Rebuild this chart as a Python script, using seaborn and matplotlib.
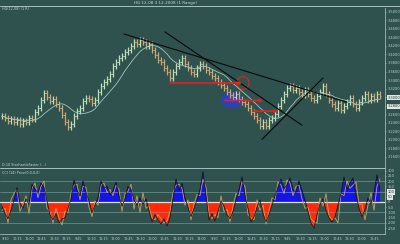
import numpy as np
import pandas as pd
import matplotlib
matplotlib.use("Agg")
import matplotlib.pyplot as plt
from matplotlib.patches import Ellipse
import seaborn as sns

# ---------------- data ----------------
closes = [3.255, 3.251, 3.244, 3.248, 3.241, 3.246, 3.237, 3.244, 3.241, 3.251,
          3.248, 3.265, 3.274, 3.293, 3.309, 3.300, 3.291, 3.295, 3.284, 3.274,
          3.258, 3.241, 3.230, 3.237, 3.255, 3.267, 3.274, 3.291, 3.298, 3.295,
          3.286, 3.293, 3.312, 3.326, 3.335, 3.342, 3.354, 3.373, 3.382, 3.392,
          3.396, 3.406, 3.411, 3.420, 3.429, 3.425, 3.434, 3.429, 3.420, 3.425,
          3.411, 3.399, 3.387, 3.382, 3.368, 3.359, 3.345, 3.359, 3.373, 3.382,
          3.392, 3.378, 3.368, 3.359, 3.354, 3.368, 3.378, 3.373, 3.364, 3.359,
          3.349, 3.345, 3.335, 3.328, 3.321, 3.312, 3.305, 3.300, 3.307, 3.295,
          3.288, 3.284, 3.274, 3.265, 3.255, 3.246, 3.232, 3.241, 3.232, 3.246,
          3.251, 3.260, 3.279, 3.293, 3.307, 3.321, 3.326, 3.317, 3.321, 3.312,
          3.305, 3.317, 3.307, 3.298, 3.293, 3.302, 3.312, 3.326, 3.307, 3.293,
          3.284, 3.274, 3.286, 3.270, 3.279, 3.288, 3.298, 3.284, 3.274, 3.288,
          3.298, 3.307, 3.293, 3.302, 3.295, 3.307, 3.302]

cci = [-40, -110, -160, -80, 20, 140, -10, -60, 30, -20,
       170, 120, 90, 180, 140, 10, -120, -170, -110, -200,
       -160, -150, -60, 30, 210, 110, 60, 200, 90, 10,
       -100, -30, 40, 200, 130, 150, 70, 110, 190, 60,
       -40, 30, 150, 120, 20, -30, 40, -20, 30, -80,
       -190, -120, -170, -210, -160, -230, -150, 30, 220, 110,
       180, 40, -50, -140, -60, 20, 120, 290, 60, -170,
       -110, -180, -90, 10, -40, -120, -160, -90, 20, 120,
       240, 60, -60, -190, -140, -50, 20, -110, -190, -120,
       -30, 60, 140, 220, 130, 160, 230, 120, 90, 200,
       110, 20, -90, -200, -250, -120, -20, 30, -80, -150,
       -190, -140, -30, 80, 240, 120, 180, 230, 70, -60,
       -140, -70, 40, -20, 90, 260, 120]

fast = [-80, -60, -200, 20, 80, 120, -90, -20, 60, -110,
        130, 180, 40, 150, 200, -60, -90, -200, -60, -150,
        -220, -90, -100, 80, 160, 170, 20, 150, 140, -50,
        -140, 10, -30, 160, 180, 90, 120, 60, 160, 120,
        -90, 80, 100, 170, -70, 60, -100, 90, -60, -40,
        -150, -170, -120, -160, -200, -180, -90, 90, 160, 170,
        130, -30, 20, -170, -20, 70, 60, 220, 140, -120,
        -160, -120, -150, 60, -90, -70, -190, -40, 80, 60,
        190, 150, -120, -150, -170, 20, -80, -30, -210, -90,
        40, 20, 190, 160, 80, 210, 180, 60, 150, 160,
        30, -60, -50, -160, -190, -200, 40, -40, 80, -130,
        -170, -150, -200, 80, 60, 200, 130, 160, 190, -20,
        -20, -170, -30, 90, -80, 150, 220]

price_ticks = [3.16, 3.18, 3.20, 3.22, 3.24, 3.26, 3.28, 3.30, 3.32, 3.34,
               3.36, 3.38, 3.40, 3.42, 3.44, 3.46, 3.48, 3.50]
price_marked = [3.30, 3.28]
osc_ticks = [300, 250, 200, 150, 100, 50, 0, -50, -100, -150, -200, -250]
osc_marked = [100, 50]
time_labels = ["9:30", "10:15", "11:00", "11:45", "12:30", "13:15", "9:45", "10:30",
               "11:15", "12:00", "12:45", "13:30", "10:00", "10:45", "11:30", "12:15",
               "13:00", "9:30", "10:15", "11:00", "11:45", "12:30", "13:15", "9:45",
               "10:30", "11:15", "12:00", "12:45", "13:30", "10:00", "10:45"]

# annotations (bar index, price)
trend_lines = [((40.7, 3.448), (115.0, 3.288)),
               ((54.3, 3.453), (100.0, 3.234)),
               ((86.7, 3.201), (107.0, 3.345))]
red_arrows = [((56.0, 3.333), (80.0, 3.333)),
              ((74.3, 3.292), (87.0, 3.292)),
              ((83.7, 3.267), (92.0, 3.267))]

# ---------------- style ----------------
BG = "#2f524e"
sns.set_theme(style="dark", rc={"axes.facecolor": BG, "figure.facecolor": BG,
                                "axes.edgecolor": BG, "axes.grid": False})
plt.rcParams["font.family"] = ["DejaVu Sans"]

W, H = 400, 244
fig = plt.figure(figsize=(W / 100, H / 100), dpi=100)

def px_axes(x0, y0, x1, y1):
    return fig.add_axes([x0 / W, 1 - y1 / H, (x1 - x0) / W, (y1 - y0) / H])

def mark_labels(axis_labels, values, marked):
    for lab, v in zip(axis_labels, values):
        if any(abs(v - m) < 1e-9 for m in marked):
            lab.set_color("#1c3330")
            lab.set_bbox(dict(boxstyle="square,pad=0.15", fc="#dfe8e6", ec="none"))

n = len(closes)
idx = np.arange(n)
xlim = (-0.667, 127.67)

# ---------------- price panel ----------------
ax = px_axes(0, 8, 385, 167)
ax.set_xlim(*xlim)
ax.set_ylim(3.136, 3.509)

df = pd.DataFrame({"i": idx, "close": closes})
df["prev"] = df["close"].shift(1).fillna(df["close"])
df["ma"] = df["close"].rolling(10, min_periods=1).mean()
wick = 0.007
lows = np.minimum(df["prev"], df["close"]) - wick
highs = np.maximum(df["prev"], df["close"]) + wick
up = df["close"] >= df["prev"]
cols = np.where(up, "#bfe0b5", "#d4a472")
ax.vlines(df["i"], lows, highs, colors=cols, lw=0.9)
ax.hlines(df["prev"], df["i"] - 0.5, df["i"], colors=cols, lw=0.6)
ax.hlines(df["close"], df["i"], df["i"] + 0.5, colors=cols, lw=0.6)
sns.lineplot(data=df, x="i", y="ma", ax=ax, color="#9cc8be", lw=0.6, legend=False)

for (a, b) in trend_lines:
    ax.plot([a[0], b[0]], [a[1], b[1]], color="#0a0a0a", lw=0.8)

ax.add_patch(Ellipse((76.7, 3.293), 7.3, 0.036, facecolor="#2b3fc6", edgecolor="none", alpha=0.95))
for (a, b) in red_arrows:
    ax.annotate("", xy=b, xytext=a,
                arrowprops=dict(arrowstyle="-|>", color="#e8201c", lw=1.2,
                                mutation_scale=4, shrinkA=0, shrinkB=0))
ax.add_patch(Ellipse((80.3, 3.333), 4.0, 0.030, facecolor="none", edgecolor="#e8201c", lw=0.8))

ax.set_xticks([])
ax.yaxis.tick_right()
ax.set_yticks(price_ticks)
ax.set_yticklabels([f"{v:.4f}" for v in price_ticks], fontsize=2.6, color="#b8cfcb")
mark_labels(ax.get_yticklabels(), price_ticks, price_marked)
ax.tick_params(axis="y", length=1, width=0.4, color="#b8cfcb", pad=1)
ax.set_xlabel("")
ax.set_ylabel("")
for s in ax.spines.values():
    s.set_visible(False)
ax.spines["right"].set_visible(True)
ax.spines["right"].set_color("#9fb8b4")
ax.spines["right"].set_linewidth(0.6)

# ---------------- oscillator panel ----------------
ax2 = px_axes(0, 168, 385, 234)
ax2.set_xlim(*xlim)
ax2.set_ylim(-305, 324)
ci = np.arange(len(cci))
cci_arr = np.array(cci, dtype=float)
for lv in [200, 100, -100, -200]:
    ax2.axhline(lv, color="#6f9691", lw=0.5)
ax2.fill_between(ci, 0, cci_arr, where=cci_arr >= 0, interpolate=True, color="#1414e6", lw=0)
ax2.fill_between(ci, 0, cci_arr, where=cci_arr <= 0, interpolate=True, color="#ff2a0a", lw=0)
ax2.axhline(0, color="#d8e6e2", lw=0.9)
odf = pd.DataFrame({"i": np.arange(len(fast)), "fast": fast})
sns.lineplot(data=odf, x="i", y="fast", ax=ax2, color="#c9a060", lw=0.6, legend=False)
cdf = pd.DataFrame({"i": ci, "cci": cci})
sns.lineplot(data=cdf, x="i", y="cci", ax=ax2, color="#111111", lw=0.5, legend=False)

ax2.yaxis.tick_right()
ax2.set_yticks(osc_ticks)
ax2.set_yticklabels([str(v) for v in osc_ticks], fontsize=2.6, color="#b8cfcb")
mark_labels(ax2.get_yticklabels(), osc_ticks, osc_marked)
ax2.tick_params(axis="y", length=1, width=0.4, color="#b8cfcb", pad=1)
xt = np.arange(1, 127, 4.1)[:len(time_labels)]
ax2.set_xticks(xt)
ax2.set_xticklabels(time_labels[:len(xt)], fontsize=2.4, color="#b8cfcb")
ax2.tick_params(axis="x", length=1, width=0.4, color="#b8cfcb", pad=1)
ax2.set_xlabel("")
ax2.set_ylabel("")
for s in ax2.spines.values():
    s.set_visible(False)
ax2.spines["right"].set_visible(True)
ax2.spines["right"].set_color("#9fb8b4")
ax2.spines["right"].set_linewidth(0.6)
ax2.spines["bottom"].set_visible(True)
ax2.spines["bottom"].set_color("#9fb8b4")
ax2.spines["bottom"].set_linewidth(0.6)

# ---------------- chrome: title, separators ----------------
fig.add_artist(plt.Line2D([0, 1], [1 - 6 / H, 1 - 6 / H], color="#a9c0bc", lw=0.7))
fig.add_artist(plt.Line2D([0, 385 / W], [1 - 168 / H, 1 - 168 / H], color="#a9c0bc", lw=0.7))
fig.text(165 / W, 1 - 3 / H, "HG 12-08 3 12-2008 (1 Range)", fontsize=3, color="#c8d8d5",
         ha="center", va="center")
fig.text(2 / W, 1 - 9 / H, "HG(12-08) (1 R)", fontsize=2.4, color="#c8d8d5", ha="left", va="center")
fig.text(2 / W, 1 - 164.5 / H, "D-10 StochasticFaster (...)", fontsize=2.4, color="#c8d8d5",
         ha="left", va="center")
fig.text(2 / W, 1 - 172.5 / H, "CCI (14) Price(0,0,0,0)", fontsize=2.4, color="#c8d8d5",
         ha="left", va="center")

fig.savefig("out.png", dpi=100, facecolor=BG)
